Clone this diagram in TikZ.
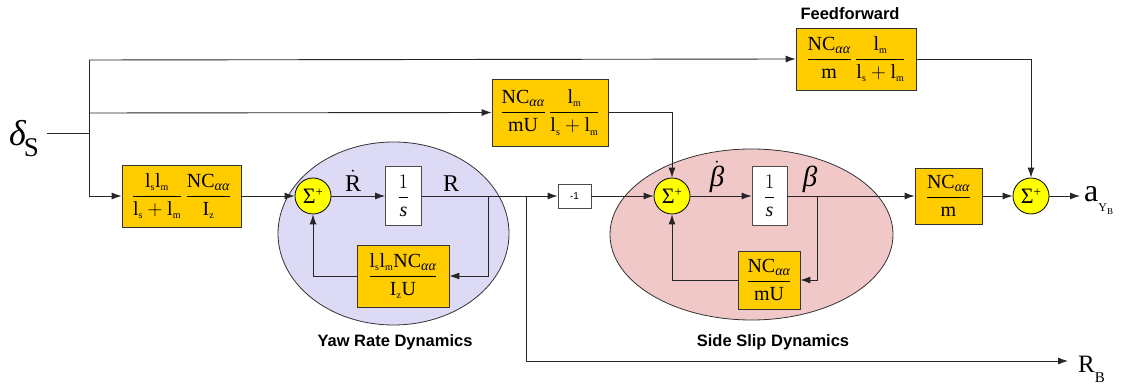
\documentclass[tikz,border=0pt]{standalone}
\usepackage{amsmath}
\usepackage{fontspec}
\setmainfont{Liberation Serif}
\newfontfamily\lsans{Liberation Sans}
\usetikzlibrary{arrows.meta,shapes.geometric}
\definecolor{gainc}{HTML}{FFCC00}
\definecolor{sumc}{HTML}{FFFF00}
\definecolor{yawc}{HTML}{DCDAF4}
\definecolor{slipc}{HTML}{F0C8C8}
\newcommand{\lsb}[1]{\mathrm{l}_{\scriptscriptstyle\mathrm{#1}}}
\newcommand{\NCaa}{\mathrm{NC}_{\text{\itshape αα}}}
\newcommand{\sumsym}{Σ\raisebox{7pt}{\fontsize{13}{14}\selectfont +}}
\begin{document}
\begin{tikzpicture}[x=1pt,y=-1pt,
  gain/.style={draw=black!80, fill=gainc, line width=0.8pt, inner sep=0pt,
    font=\fontsize{20}{22}\selectfont},
  integ/.style={draw=black!70, fill=white, line width=0.8pt, inner sep=0pt,
    minimum width=36pt, minimum height=59pt, font=\fontsize{20}{22}\selectfont},
  sumnode/.style={circle, draw=black, fill=sumc, line width=0.8pt, minimum size=36pt,
    inner sep=0pt, font=\fontsize{22}{24}\selectfont},
  wire/.style={draw=black!85, line width=0.9pt},
  arr/.style={wire, -{Latex[length=10pt,width=7pt]}},
  dyn/.style={draw=black!80, line width=0.8pt},
  title/.style={font=\lsans\bfseries\fontsize{16.5}{18}\selectfont},
  sig/.style={font=\fontsize{24}{26}\selectfont, inner sep=0pt, anchor=base},
  gsig/.style={font=\itshape\fontsize{29}{30}\selectfont, inner sep=0pt, anchor=base}]
\useasboundingbox (0,0) rectangle (1127,387);
% dynamics regions
\draw[dyn, fill=yawc] (393.5,233.5) ellipse [x radius=115.5, y radius=91.5];
\draw[dyn, fill=slipc] (751.5,234.5) ellipse [x radius=141.5, y radius=85.5];
\node[title] (yawt) at (395,342) {Yaw Rate Dynamics};
\node[title] (slipt) at (773,342) {Side Slip Dynamics};
\node[title] (fft) at (850,14) {Feedforward};
% input
\node[inner sep=0pt, anchor=base west] (din) at (9,146)
  {{\itshape\fontsize{36}{38}\selectfont δ}\kern-2pt\raisebox{-11pt}{\fontsize{27}{28}\selectfont S}};
\coordinate (d0) at (47,133);
\coordinate (jt) at (89,60);
\coordinate (jm) at (89,113);
\coordinate (ji) at (89,133);
\coordinate (jb) at (89,196);
% blocks
\node[gain, minimum width=119pt, minimum height=62pt] (g1) at (181.5,196)
  {$\dfrac{\lsb{s}\lsb{m}}{\lsb{s} +\lsb{m}}\,\dfrac{\NCaa}{\mathrm{I}_{\scriptscriptstyle\mathrm{z}}}$};
\node[sumnode] (s1) at (313,196) {\sumsym};
\node[integ] (i1) at (403.5,196) {$\dfrac{1}{\textit{s}}$};
\node[gain, minimum width=92pt, minimum height=62pt] (f1) at (403,276)
  {$\dfrac{\lsb{s}\lsb{m}\NCaa}{\mathrm{I}_{\scriptscriptstyle\mathrm{z}}\mathrm{U}}$};
\node[gain, minimum width=116pt, minimum height=67pt] (gm) at (550,112.5)
  {$\dfrac{\NCaa}{\mathrm{mU}}\,\dfrac{\lsb{m}}{\lsb{s} +\lsb{m}}$};
\node[draw=black!70, fill=white, line width=0.8pt, minimum width=33pt, minimum height=24pt,
  inner sep=0pt, font=\lsans\fontsize{10}{12}\selectfont] (neg) at (574.5,196) {-1};
\node[sumnode] (s2) at (672,196) {\sumsym};
\node[integ, minimum width=35pt] (i2) at (769.5,196) {$\dfrac{1}{\textit{s}}$};
\node[gain, minimum width=62pt, minimum height=58pt] (f2) at (769,280)
  {$\dfrac{\NCaa}{\mathrm{mU}}$};
\node[gain, minimum width=67pt, minimum height=56pt] (go) at (948.5,196)
  {$\dfrac{\NCaa}{\mathrm{m}}$};
\node[sumnode] (s3) at (1031,196) {\sumsym};
\node[gain, minimum width=120pt, minimum height=62pt] (ff) at (856,59)
  {$\dfrac{\NCaa}{\mathrm{m}}\,\dfrac{\lsb{m}}{\lsb{s} +\lsb{m}}$};
% signal labels
\node[sig] (lrd) at (353,192) {$\dot{\mathrm{R}}$};
\node[sig] (lr) at (451,192) {R};
\node[gsig] (lbd) at (717,187) {$\dot{\text{\itshape β}}$};
\node[gsig] (lb) at (810,187) {β};
\node[inner sep=0pt, anchor=base west] (ay) at (1084,202)
  {\fontsize{32}{34}\selectfont a\raisebox{-10pt}{\fontsize{12}{14}\selectfont Y\raisebox{-3pt}{\fontsize{9}{10}\selectfont B}}};
\node[inner sep=0pt, anchor=base west] (rb) at (1078,372)
  {\fontsize{25}{28}\selectfont R\raisebox{-10pt}{\fontsize{15}{16}\selectfont B}};
% junctions on outputs
\coordinate (jr) at (488,196);
\coordinate (jrb) at (526,196);
\coordinate (jbeta) at (817,196);
% wires
\draw[wire] (d0) -- (ji);
\draw[wire] (jt) -- (jb);
\draw[arr] (jt) -- (ff.west);
\draw[arr] (jm) -- (gm.west);
\draw[arr] (jb) -- (g1.west);
\draw[arr] (g1) -- (s1);
\draw[arr] (s1) -- (i1);
\draw[arr] (i1) -- (neg);
\draw[arr] (jr) |- (f1.east);
\draw[arr] (f1.west) -| (s1.south);
\draw[arr] (jrb) |- (1068,361) coordinate (rbend);
\draw[arr] (gm.east) -| (s2.north);
\draw[arr] (neg) -- (s2);
\draw[arr] (s2) -- (i2);
\draw[arr] (i2) -- (go);
\draw[arr] (jbeta) |- (f2.east);
\draw[arr] (f2.west) -| (s2.south);
\draw[arr] (go) -- (s3);
\draw[arr] (ff.east) -| (s3.north);
\draw[arr] (s3) -- (1080,196) coordinate (aend);
\end{tikzpicture}
\end{document}
